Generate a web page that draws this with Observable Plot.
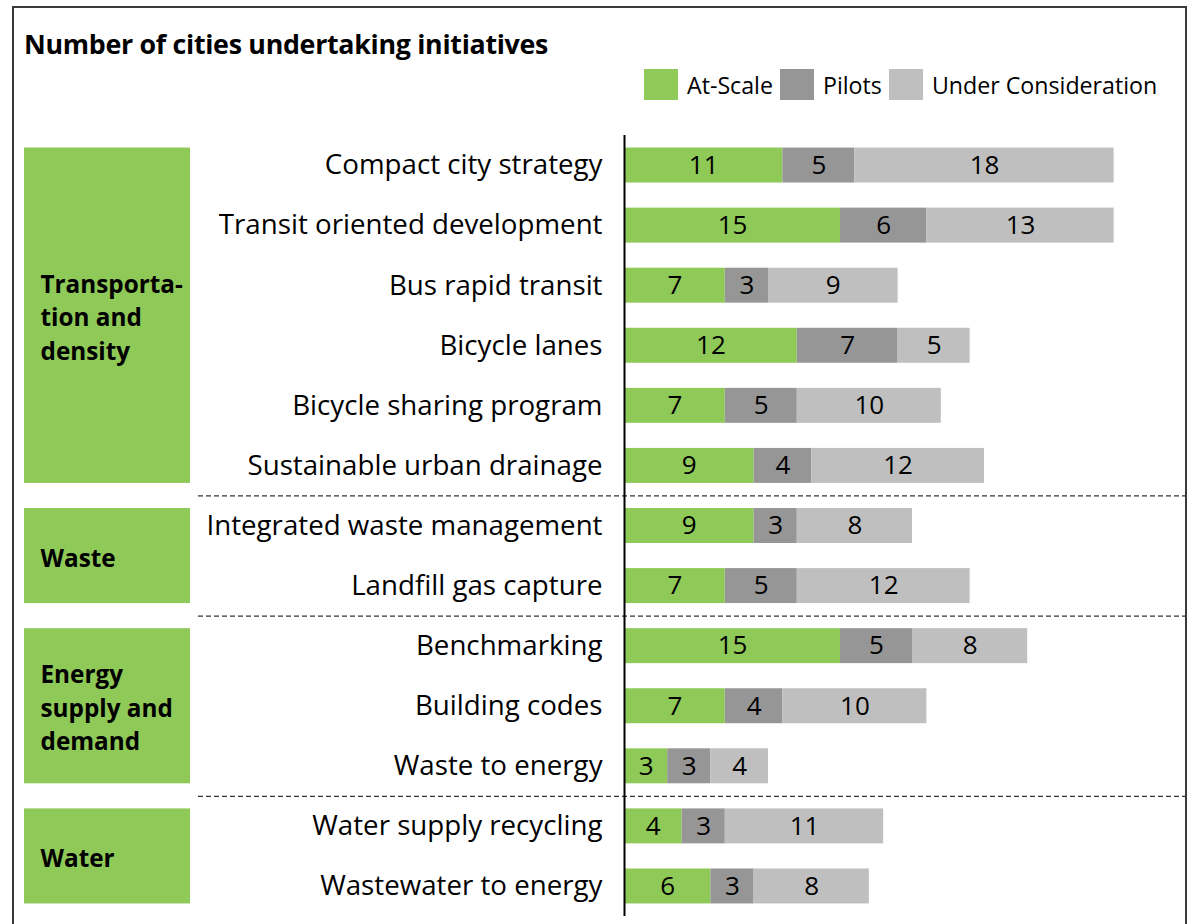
<!DOCTYPE html>
<html>
<head>
<meta charset="utf-8">
<script src="https://cdn.jsdelivr.net/npm/d3@7"></script>
<script src="https://cdn.jsdelivr.net/npm/@observablehq/plot@0.6"></script>
<style>
  html, body { margin: 0; padding: 0; width: 1192px; height: 924px; overflow: hidden; background: #fff; }
  #frame { position: absolute; left: 12px; top: 6px; width: 1171px; height: 1000px; border: 2px solid #3a3a3a; box-sizing: content-box; }
  #title { position: absolute; left: 24px; top: 25px; font-family: "Open Sans", sans-serif; font-weight: bold; font-size: 26.8px; color: #000; white-space: nowrap; letter-spacing: -0.3px; }
  #legend { position: absolute; left: 644px; top: 68px; }
  #chart { position: absolute; left: 0; top: 0; }
  .lg-swatch { margin-right: 7px !important; }
  .lg-swatch > svg { margin-right: 9px !important; }
</style>
</head>
<body>
<div id="frame"></div>
<div id="chart"></div>
<div id="title">Number of cities undertaking initiatives</div>
<div id="legend"></div>
<script>
const rows = [
  "Compact city strategy",
  "Transit oriented development",
  "Bus rapid transit",
  "Bicycle lanes",
  "Bicycle sharing program",
  "Sustainable urban drainage",
  "Integrated waste management",
  "Landfill gas capture",
  "Benchmarking",
  "Building codes",
  "Waste to energy",
  "Water supply recycling",
  "Wastewater to energy"
];
const atScale = [11, 15, 7, 12, 7, 9, 9, 7, 15, 7, 3, 4, 6];
const pilots = [5, 6, 3, 7, 5, 4, 3, 5, 5, 4, 3, 3, 3];
const underConsideration = [18, 13, 9, 5, 10, 12, 8, 12, 8, 10, 4, 11, 8];
const series = ["At-Scale", "Pilots", "Under Consideration"];
const colors = ["#8fc957", "#969696", "#bfbfbf"];
const groupNames = ["Transporta-\ntion and\ndensity", "Waste", "Energy\nsupply and\ndemand", "Water"];
const groupSizes = [6, 2, 3, 2];

// long table for stacked bars
const seriesValues = [atScale, pilots, underConsideration];
const long = [];
rows.forEach((name, i) => {
  let acc = 0;
  seriesValues.forEach((arr, j) => {
    long.push({row: i, name, series: series[j], value: arr[i], x1: acc, x2: acc + arr[i]});
    acc += arr[i];
  });
});

// groups
const groups = [];
let start = 0;
groupNames.forEach((label, k) => {
  groups.push({label, first: start, last: start + groupSizes[k] - 1});
  start += groupSizes[k];
});
const boundaries = groups.slice(0, -1).map(g => g.last + 0.5);

const half = 0.291;
const W = 1192, H = 924;
const font = "'Open Sans', sans-serif";

const chart = Plot.plot({
  width: W,
  height: H,
  marginLeft: 24,
  marginRight: 7,
  marginTop: 135,
  marginBottom: 8,
  x: {domain: [0, 39], range: [624, 624 + 39 * 14.4], axis: null},
  y: {domain: [-0.5, 12.5], reverse: true, axis: null},
  color: {domain: series, range: colors},
  style: {fontFamily: font, fontSize: "26px", color: "#000", background: "transparent"},
  marks: [
    Plot.rect(groups, {y1: d => d.first - half, y2: d => d.last + half, fill: colors[0], insetRight: 995}),
    Plot.text(groups, {y: d => (d.first + d.last) / 2, text: "label", frameAnchor: "left", dx: 16, textAnchor: "start", fontWeight: "bold", fontSize: 24.3, lineHeight: 1.38, fill: "#000"}),
    Plot.ruleY(boundaries, {y: d => d, stroke: "#333", strokeWidth: 1.2, strokeDasharray: "5,3", insetLeft: 174}),
    Plot.rect(long, {x1: "x1", x2: "x2", y1: d => d.row - half, y2: d => d.row + half, fill: "series"}),
    Plot.text(long, {x: d => (d.x1 + d.x2) / 2, y: "row", text: d => String(d.value), fontSize: 26, fill: "#000"}),
    Plot.text(rows, {x: d => 0, y: (d, i) => i, text: d => d, textAnchor: "end", dx: -22, fontSize: 27.7, fill: "#000"}),
    Plot.ruleX([0], {stroke: "#000", strokeWidth: 2})
  ]
});
document.getElementById("chart").appendChild(chart);

const legend = Plot.legend({
  color: {type: "ordinal", domain: series, range: colors},
  legend: "swatches",
  swatchWidth: 34,
  swatchHeight: 31,
  className: "lg",
  style: {fontFamily: font, fontSize: "23.2px", color: "#000"}
});
document.getElementById("legend").appendChild(legend);
</script>
</body>
</html>
